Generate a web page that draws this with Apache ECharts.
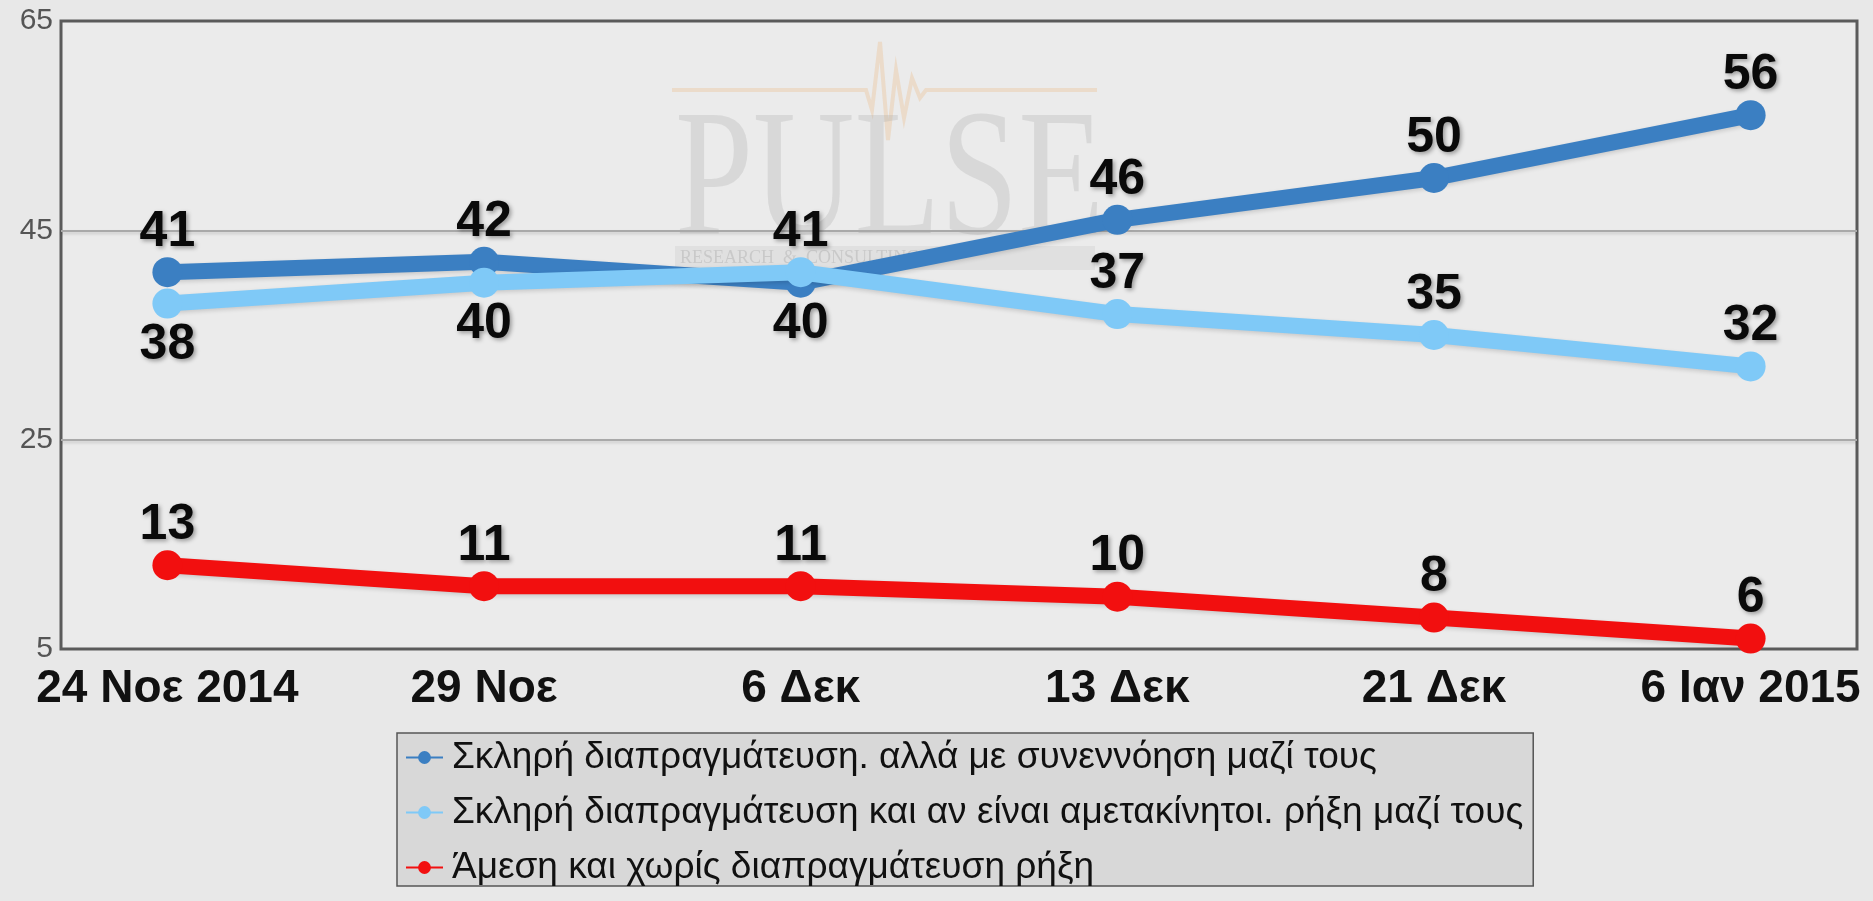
<!DOCTYPE html>
<html>
<head>
<meta charset="utf-8">
<script src="https://cdn.jsdelivr.net/npm/echarts@6/dist/echarts.min.js"></script>
<style>
html,body{margin:0;padding:0;background:#e8e8e8;}
#c{width:1873px;height:901px;}
</style>
</head>
<body>
<div id="c"></div>
<script>
const categories = ['24 Νοε 2014', '29 Νοε', '6 Δεκ', '13 Δεκ', '21 Δεκ', '6 Ιαν 2015'];
const seriesNames = [
  'Σκληρή διαπραγμάτευση. αλλά με συνεννόηση μαζί τους',
  'Σκληρή διαπραγμάτευση και αν είναι αμετακίνητοι. ρήξη μαζί τους',
  'Άμεση και χωρίς διαπραγμάτευση ρήξη'
];
const hardAgreement = [41, 42, 40, 46, 50, 56];
const hardRupture = [38, 40, 41, 37, 35, 32];
const immediateRupture = [13, 11, 11, 10, 8, 6];
const yTickValues = [5, 25, 45, 65];
const gridLineValues = [25, 45];

const colors = ['#3b7fc2', '#7fc9f7', '#f20f0f'];

function labelPos(own, other, i) {
  // lower of two close blue lines gets its label below
  return (own[i] < other[i] && other[i] - own[i] < 5) ? 'bottom' : 'top';
}
function buildData(vals, other) {
  return vals.map((v, i) => {
    const pos = other ? labelPos(vals, other, i) : 'top';
    return {
      value: [i, v],
      label: { position: pos, distance: pos === 'top' ? 0 : 2 }
    };
  });
}

const labelStyle = {
  show: true,
  formatter: p => p.value[1],
  fontFamily: 'Liberation Sans, Arial, sans-serif',
  fontWeight: 'bold',
  fontSize: 50,
  color: '#0a0a0a',
  textShadowColor: 'rgba(0,0,0,0.35)',
  textShadowBlur: 4,
  textShadowOffsetX: 2,
  textShadowOffsetY: 2
};

function mkSeries(idx, vals, other) {
  return {
    name: seriesNames[idx],
    type: 'line',
    data: buildData(vals, other),
    symbol: 'circle',
    symbolSize: 30,
    clip: false,
    lineStyle: { width: 16, color: colors[idx], shadowColor: 'rgba(0,0,0,0.15)', shadowBlur: 4, shadowOffsetY: 2 },
    itemStyle: { color: colors[idx] },
    label: labelStyle,
    emphasis: { disabled: true },
    z: 3 + idx
  };
}

const chart = echarts.init(document.getElementById('c'), null, { renderer: 'canvas' });
const series = [
  mkSeries(0, hardAgreement, hardRupture),
  mkSeries(1, hardRupture, hardAgreement),
  mkSeries(2, immediateRupture, null)
];
series[0].markLine = {
  silent: true,
  symbol: 'none',
  label: { show: false },
  lineStyle: { color: '#a9a9a9', width: 2, type: 'solid', shadowColor: 'rgba(0,0,0,0.15)', shadowBlur: 3, shadowOffsetY: 2 },
  data: gridLineValues.map(v => ({ yAxis: v })),
  z: 1
};

chart.setOption({
  backgroundColor: '#e8e8e8',
  animation: false,
  grid: {
    left: 61, right: 16, top: 21, bottom: 252,
    show: true,
    backgroundColor: '#ebebeb',
    borderColor: '#5a5a5a',
    borderWidth: 3
  },
  graphic: [
    {
      type: 'polyline', z: 1, silent: true,
      shape: { points: [[672, 90], [866, 90], [872, 110], [880, 42], [888, 140], [896, 70], [904, 118], [912, 78], [920, 98], [926, 90], [1097, 90]] },
      style: { stroke: 'rgba(235,190,140,0.35)', lineWidth: 4, fill: null }
    },
    {
      type: 'text', z: 1, silent: true, x: 675, y: 96, scaleX: 0.78,
      style: { text: 'PULSE', x: 0, y: 0, font: '180px "Liberation Serif", serif', fill: 'rgba(170,170,170,0.28)' }
    },
    {
      type: 'rect', z: 1, silent: true,
      shape: { x: 675, y: 246, width: 420, height: 24 },
      style: { fill: 'rgba(190,190,190,0.25)' }
    },
    {
      type: 'text', z: 1, silent: true, left: 680, top: 249,
      style: { text: 'RESEARCH  &  CONSULTING', font: '18px "Liberation Serif", serif', fill: 'rgba(150,150,150,0.3)' }
    }
  ],
  legend: {
    orient: 'vertical',
    left: 397,
    top: 733,
    backgroundColor: '#d8d8d8',
    borderColor: '#555',
    borderWidth: 1.5,
    borderRadius: 0,
    padding: [6, 10, 0, 8],
    itemGap: 18,
    itemWidth: 37,
    itemHeight: 16,
    selectedMode: false,
    textStyle: { fontSize: 37, color: '#111', fontFamily: 'Liberation Sans, Arial, sans-serif', padding: [0, 0, 0, 4] },
    data: seriesNames
  },
  xAxis: {
    type: 'value',
    min: -0.336,
    max: 5.336,
    axisLine: { show: false },
    axisTick: { show: false },
    splitLine: { show: false },
    axisLabel: {
      customValues: categories.map((c, i) => i),
      formatter: v => categories[Math.round(v)] ?? '',
      fontFamily: 'Liberation Sans, Arial, sans-serif',
      fontWeight: 'bold',
      fontSize: 46,
      color: '#111',
      margin: 17
    }
  },
  yAxis: {
    type: 'value',
    min: 5,
    max: 65,
    axisLine: { show: false },
    axisTick: { show: false },
    splitLine: { show: false },
    axisLabel: {
      customValues: yTickValues,
      fontFamily: '"Liberation Sans Narrow", "Liberation Sans", Arial, sans-serif',
      fontSize: 30,
      color: '#555',
      margin: 8
    }
  },
  series: series
});
</script>
</body>
</html>
